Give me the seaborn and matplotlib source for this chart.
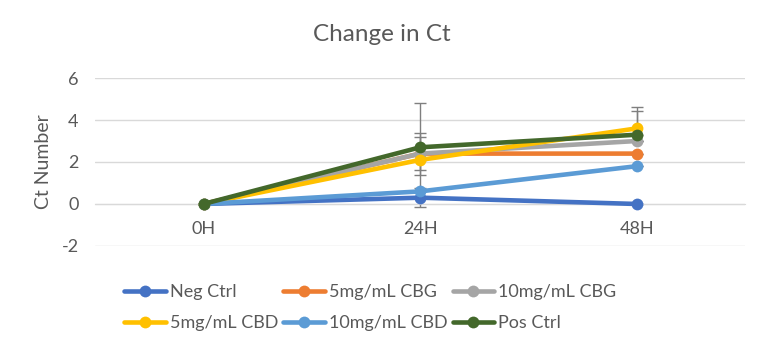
import pandas as pd
import numpy as np
import matplotlib
matplotlib.use('Agg')
import matplotlib.pyplot as plt
import seaborn as sns

# Chart values
timepoints = ['0H', '24H', '48H']
series_names = ['Neg Ctrl', '5mg/mL CBG', '10mg/mL CBG', '5mg/mL CBD', '10mg/mL CBD', 'Pos Ctrl']
neg_ctrl = [0.0, 0.3, 0.0]
cbg_5 = [0.0, 2.4, 2.4]
cbg_10 = [0.0, 2.4, 3.0]
cbd_5 = [0.0, 2.1, 3.6]
cbd_10 = [0.0, 0.6, 1.8]
pos_ctrl = [0.0, 2.7, 3.3]

# error bars (lower, upper) per series
err_lo = [[0.0, 0.45, 0.0], [0.0, 0.8, 0.0], [0.0, 1.0, 0.0],
          [0.0, 0.0, 0.3], [0.0, 0.0, 0.0], [0.0, 2.1, 0.3]]
err_hi = [[0.0, 0.45, 0.0], [0.0, 0.8, 0.0], [0.0, 1.0, 0.0],
          [0.0, 0.0, 1.0], [0.0, 0.0, 0.0], [0.0, 2.1, 1.15]]

colors = ['#4472C4', '#ED7D31', '#A5A5A5', '#FFC000', '#5B9BD5', '#43682B']

values = [neg_ctrl, cbg_5, cbg_10, cbd_5, cbd_10, pos_ctrl]

rows = []
for name, vals in zip(series_names, values):
    for t, v in zip(timepoints, vals):
        rows.append({'Time': t, 'Ct': v, 'Series': name})
df = pd.DataFrame(rows)
df['x'] = df['Time'].map({t: i for i, t in enumerate(timepoints)})

sns.set_style('white')
plt.rcParams['font.family'] = ['Lato', 'DejaVu Sans']
plt.rcParams['axes.unicode_minus'] = False
text_color = '#595959'

fig = plt.figure(figsize=(7.68, 3.58), dpi=100)
ax = fig.add_axes([0.124, 0.313, 0.846, 0.469])

# error bars (gray, behind the lines)
for name, vals, lo, hi in zip(series_names, values, err_lo, err_hi):
    ax.errorbar(range(len(timepoints)), vals, yerr=[lo, hi], fmt='none', ecolor='#7F7F7F',
                elinewidth=1.0, capsize=4, capthick=1.0, zorder=2)

sns.lineplot(data=df, x='x', y='Ct', hue='Series', hue_order=series_names,
             palette=colors, marker='o', markersize=8.5, markeredgewidth=0,
             linewidth=3.3, ax=ax, legend=True, zorder=3)

ax.set_xlim(-0.5, 2.5)
ax.set_ylim(-2, 6)
ax.set_yticks([-2, 0, 2, 4, 6])
ax.set_xticks(range(len(timepoints)))
ax.set_xticklabels(timepoints)
ax.yaxis.grid(True, color='#D9D9D9', linewidth=1)
ax.set_axisbelow(True)
for s in ['top', 'right', 'left']:
    ax.spines[s].set_visible(False)
ax.spines['bottom'].set_position(('data', 0))
ax.spines['bottom'].set_color('#D9D9D9')
ax.tick_params(axis='x', length=0, pad=12, labelsize=13, labelcolor=text_color)
ax.tick_params(axis='y', length=0, pad=12, labelsize=13, labelcolor=text_color)
ax.set_xlabel('')
ax.set_ylabel('Ct Number', fontsize=14, color=text_color, labelpad=7)

fig.text(0.497, 0.905, 'Change in Ct', ha='center', va='center', fontsize=17.5, color=text_color)

# legend: 3 columns, row-wise order like the original
handles, labels = ax.get_legend_handles_labels()
lookup = dict(zip(labels, handles))
order = ['Neg Ctrl', '5mg/mL CBD', '5mg/mL CBG', '10mg/mL CBD', '10mg/mL CBG', 'Pos Ctrl']
ax.legend([lookup[o] for o in order], order, ncol=3, loc='upper left',
          bbox_to_anchor=(0.02, -0.13), frameon=False, fontsize=13,
          handlelength=2.3, handletextpad=0.2, columnspacing=0.3,
          labelspacing=0.85, labelcolor=text_color)

fig.savefig('out.png', dpi=100)
